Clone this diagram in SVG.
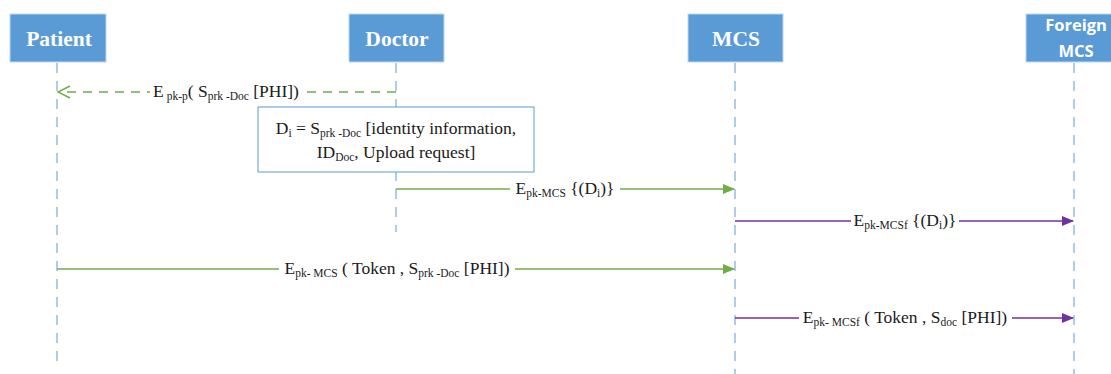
<svg xmlns="http://www.w3.org/2000/svg" width="1111" height="374" viewBox="0 0 1111 374">
<style>
.actor{fill:#5b9bd5;stroke:#bdd7ee;stroke-width:1}
.aname{font-family:"Liberation Serif",serif;font-weight:bold;font-size:21.5px;fill:#ffffff;text-anchor:middle}
.fname{font-family:"Open Sans","Liberation Sans",sans-serif;font-weight:bold;font-size:16.5px;fill:#ffffff;text-anchor:middle}
.life{stroke:#5b9bd5;stroke-width:1;stroke-dasharray:10 8;fill:none}
.lbl{font-family:"Liberation Serif",serif;font-size:17.5px;fill:#1a1a1a;text-anchor:middle}
.sub{font-size:11.5px}
.g{stroke:#70ad47;stroke-width:1.5;fill:none}
.p{stroke:#7030a0;stroke-width:1.5;fill:none}
.bg{fill:#ffffff}
</style>
<defs>
<marker id="ag" markerWidth="12" markerHeight="10" refX="11" refY="5" orient="auto" markerUnits="userSpaceOnUse"><path d="M0,0 L12,5 L0,10 Z" fill="#70ad47"/></marker>
<marker id="ap" markerWidth="12" markerHeight="10" refX="11" refY="5" orient="auto" markerUnits="userSpaceOnUse"><path d="M0,0 L12,5 L0,10 Z" fill="#7030a0"/></marker>
<marker id="ao" markerWidth="14" markerHeight="14" refX="13" refY="7" orient="auto" markerUnits="userSpaceOnUse"><path d="M1,1 L13,7 L1,13" fill="none" stroke="#70ad47" stroke-width="1.5"/></marker>
</defs>
<rect width="1111" height="374" fill="#ffffff"/>
<g id="lifelines">
<line class="life" x1="57" y1="63" x2="57" y2="362"/>
<line class="life" x1="396" y1="63" x2="396" y2="232"/>
<line class="life" x1="735" y1="63" x2="735" y2="374"/>
<line class="life" x1="1074" y1="63" x2="1074" y2="374"/>
</g>
<g id="patient"><rect class="actor" x="10" y="14" width="96" height="48"/><text class="aname" x="59" y="46">Patient</text></g>
<g id="doctor"><rect class="actor" x="349" y="14" width="95" height="48"/><text class="aname" x="397" y="46">Doctor</text></g>
<g id="mcs"><rect class="actor" x="688" y="14" width="95" height="48"/><text class="aname" x="736" y="46">MCS</text></g>
<g id="foreign-mcs"><rect class="actor" x="1026" y="14" width="96" height="48"/><text class="fname" x="1076" y="31">Foreign</text><text class="fname" x="1076" y="57">MCS</text></g>
<g id="note"><rect x="258" y="107" width="276" height="65" fill="#ffffff" stroke="#5b9bd5" stroke-width="1"/>
<text class="lbl" x="396" y="134">D<tspan class="sub" dy="3">i</tspan><tspan dy="-3"> = S</tspan><tspan class="sub" dy="3">prk -Doc</tspan><tspan dy="-3"> [identity information,</tspan></text>
<text class="lbl" x="396" y="158">ID<tspan class="sub" dy="3">Doc</tspan><tspan dy="-3">, Upload request]</tspan></text>
</g>
<g id="connectors">
<line x1="396" y1="92" x2="58" y2="92" stroke="#70ad47" stroke-width="1.5" stroke-dasharray="9 7" marker-end="url(#ao)"/>
<rect class="bg" x="150" y="82" width="152" height="20"/>
<text class="lbl" x="226" y="97">E<tspan class="sub" dy="3"> pk-p</tspan><tspan dy="-3">( S</tspan><tspan class="sub" dy="3">prk -Doc</tspan><tspan dy="-3"> [PHI])</tspan></text>

<line class="g" x1="396" y1="189" x2="734" y2="189" marker-end="url(#ag)"/>
<rect class="bg" x="510" y="179" width="110" height="20"/>
<text class="lbl" x="565" y="194">E<tspan class="sub" dy="3">pk-MCS</tspan><tspan dy="-3"> {(D</tspan><tspan class="sub" dy="3">i</tspan><tspan dy="-3">)}</tspan></text>

<line class="p" x1="735" y1="221" x2="1073" y2="221" marker-end="url(#ap)"/>
<rect class="bg" x="851" y="211" width="108" height="20"/>
<text class="lbl" x="905" y="226">E<tspan class="sub" dy="3">pk-MCSf</tspan><tspan dy="-3"> {(D</tspan><tspan class="sub" dy="3">i</tspan><tspan dy="-3">)}</tspan></text>

<line class="g" x1="57" y1="269" x2="734" y2="269" marker-end="url(#ag)"/>
<rect class="bg" x="279" y="259" width="236" height="20"/>
<text class="lbl" x="397" y="274">E<tspan class="sub" dy="3">pk- MCS</tspan><tspan dy="-3"> ( Token , S</tspan><tspan class="sub" dy="3">prk -Doc</tspan><tspan dy="-3"> [PHI])</tspan></text>

<line class="p" x1="735" y1="318" x2="1073" y2="318" marker-end="url(#ap)"/>
<rect class="bg" x="799" y="308" width="213" height="20"/>
<text class="lbl" x="905" y="323">E<tspan class="sub" dy="3">pk- MCSf</tspan><tspan dy="-3"> ( Token , S</tspan><tspan class="sub" dy="3">doc</tspan><tspan dy="-3"> [PHI])</tspan></text>
</g>
</svg>
